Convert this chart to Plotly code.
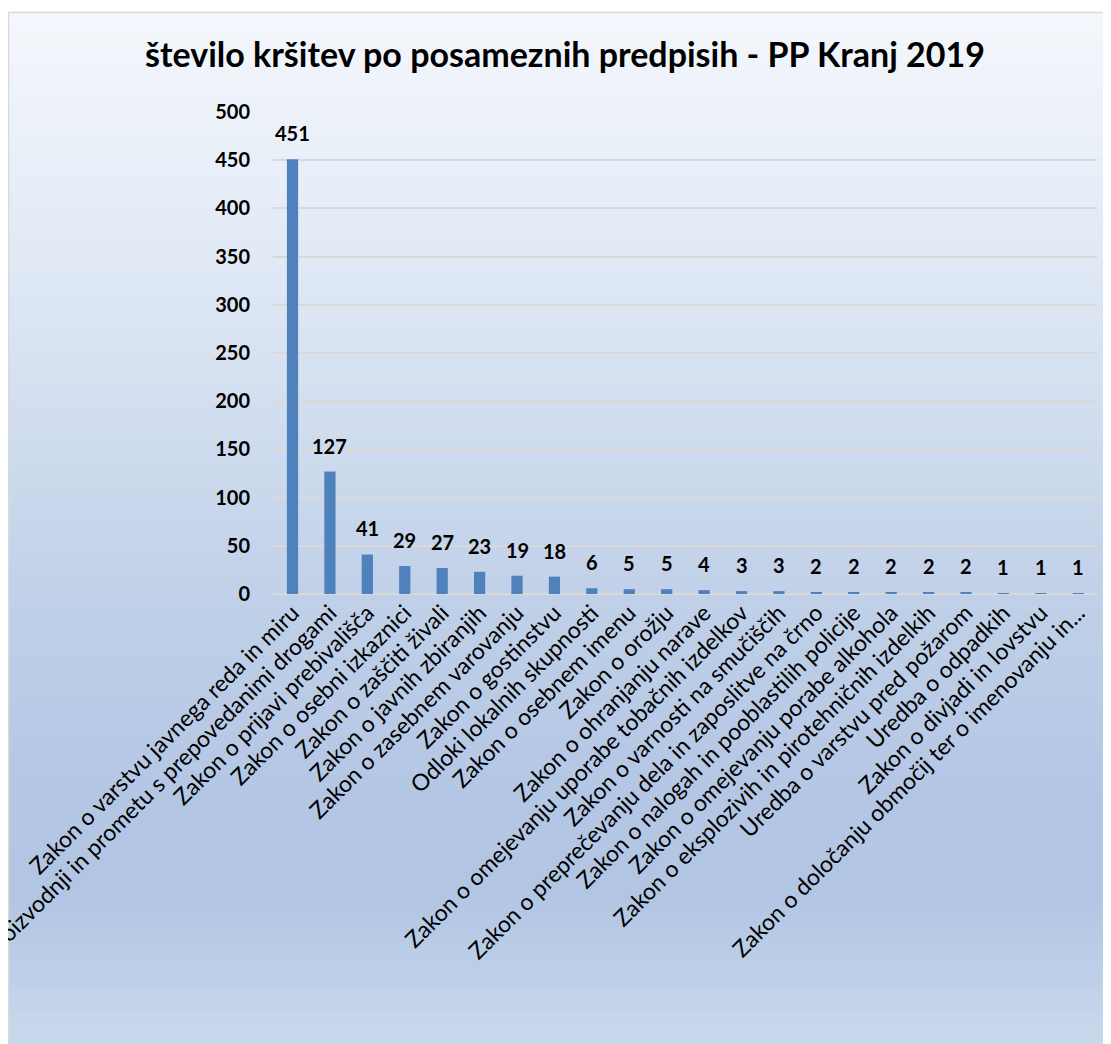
import plotly.graph_objects as go

categories = [
    "Zakon o varstvu javnega reda in miru",
    "Zakon o proizvodnji in prometu s prepovedanimi drogami",
    "Zakon o prijavi prebivališča",
    "Zakon o osebni izkaznici",
    "Zakon o zaščiti živali",
    "Zakon o javnih zbiranjih",
    "Zakon o zasebnem varovanju",
    "Zakon o gostinstvu",
    "Odloki lokalnih skupnosti",
    "Zakon o osebnem imenu",
    "Zakon o orožju",
    "Zakon o ohranjanju narave",
    "Zakon o omejevanju uporabe tobačnih izdelkov",
    "Zakon o varnosti na smučiščih",
    "Zakon o preprečevanju dela in zaposlitve na črno",
    "Zakon o nalogah in pooblastilih policije",
    "Zakon o omejevanju porabe alkohola",
    "Zakon o eksplozivih in pirotehničnih izdelkih",
    "Uredba o varstvu pred požarom",
    "Uredba o odpadkih",
    "Zakon o divjadi in lovstvu",
    "Zakon o določanju območij ter o imenovanju in...",
]
values = [451, 127, 41, 29, 27, 23, 19, 18, 6, 5, 5, 4, 3, 3, 2, 2, 2, 2, 2, 1, 1, 1]
title_text = "število kršitev po posameznih predpisih - PP Kranj 2019"
y_ticks = [0, 50, 100, 150, 200, 250, 300, 350, 400, 450, 500]

OFF = 8  # page body margin
W, H = 1111 - OFF, 1044 - OFF
L, R, T, B = 273 - OFF, 1097 - OFF, 112 - OFF, 594 - OFF  # plot area pixels

def px(x):
    return (x - L) / (R - L)

def py(y):
    return (B - y) / (B - T)

def hex2rgb(h):
    h = h.lstrip("#")
    return tuple(int(h[i:i + 2], 16) for i in (0, 2, 4))

# gradient stops in reference page pixels
stops = [(12, "#F4F7FC"), (200, "#E6EDF7"), (400, "#D3DFF0"), (600, "#C0D0E8"),
         (800, "#B3C6E4"), (900, "#B2C6E4"), (1044, "#C9D9EC")]

def color_at(y):
    for (y0, c0), (y1, c1) in zip(stops[:-1], stops[1:]):
        if y0 <= y <= y1:
            t = (y - y0) / (y1 - y0)
            a, b = hex2rgb(c0), hex2rgb(c1)
            return "rgb(%d,%d,%d)" % tuple(round(a[i] + (b[i] - a[i]) * t) for i in range(3))
    return stops[-1][1]

shapes = []
step = 8
yy = 12
while yy < 1044:
    y2 = min(yy + step, 1044)
    shapes.append(dict(type="rect", xref="paper", yref="paper", layer="below",
                       x0=px(0), x1=px(W + 5), y0=py(yy - OFF), y1=py(y2 - OFF + 1),
                       fillcolor=color_at((yy + y2) / 2), line=dict(width=0)))
    yy = y2
# border (left and top)
shapes.append(dict(type="line", xref="paper", yref="paper", layer="below",
                   x0=px(0.5), x1=px(0.5), y0=py(12 - OFF), y1=py(H + 5),
                   line=dict(color="#D9D9D9", width=1.5)))
shapes.append(dict(type="line", xref="paper", yref="paper", layer="below",
                   x0=px(0), x1=px(W + 5), y0=py(12.5 - OFF), y1=py(12.5 - OFF),
                   line=dict(color="#D9D9D9", width=1.5)))

fig = go.Figure()
fig.add_trace(go.Bar(x=categories, y=values, marker=dict(color="#4F81BD", line=dict(width=0)),
                     width=0.3, hoverinfo="x+y"))

annotations = []
for c, v in zip(categories, values):
    annotations.append(dict(x=c, y=v, xref="x", yref="y", text=str(v), showarrow=False,
                            yanchor="bottom", yshift=12,
                            font=dict(family="Lato", size=20, color="#000000", weight="bold")))

fig.update_layout(
    width=W, height=H,
    margin=dict(l=L, r=W - R, t=T, b=H - B, autoexpand=False),
    paper_bgcolor="white",
    plot_bgcolor="rgba(0,0,0,0)",
    showlegend=False,
    shapes=shapes,
    annotations=annotations,
    title=dict(text=title_text, x=(565 - OFF) / W, xanchor="center", xref="container",
               y=1 - (55 - OFF) / H, yanchor="middle", yref="container",
               font=dict(family="Lato", size=34, color="#000000", weight="bold")),
    bargap=0.7,
)
fig.update_xaxes(tickangle=-45, automargin=False, showgrid=False,
                 tickfont=dict(family="Lato", size=23, color="#000000"),
                 showline=False, ticks="")
fig.update_yaxes(range=[0, 500], tickvals=y_ticks, automargin=False,
                 showgrid=True, gridcolor="#D9D9D9", gridwidth=2,
                 zeroline=True, zerolinecolor="#D9D9D9", zerolinewidth=2,
                 ticklabelstandoff=22,
                 tickfont=dict(family="Lato", size=20, color="#000000", weight="bold"))

fig.write_html("out.html")
